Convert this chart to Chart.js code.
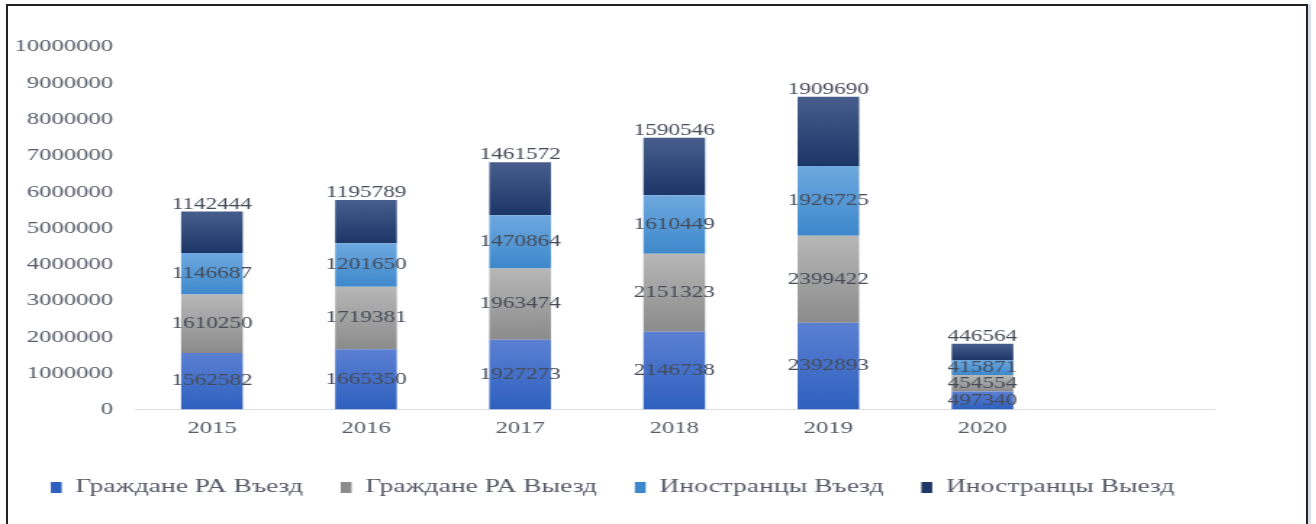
<!DOCTYPE html>
<html>
<head>
<meta charset="utf-8">
<script src="https://cdn.jsdelivr.net/npm/chart.js@4/dist/chart.umd.min.js"></script>
<style>
  html, body { margin: 0; padding: 0; background: #fff; overflow: hidden; }
  #frame {
    position: absolute; left: 6px; top: 4px; width: 1302px; height: 600px;
    border: 2px solid #222; box-sizing: border-box;
    box-shadow: 3px 0 0 #d8dde6;
  }
  #wrap {
    position: absolute; left: 0; top: 0; width: 908px; height: 524px;
    transform: scaleX(1.45); transform-origin: 0 0;
  }
</style>
</head>
<body>
<div id="frame"></div>
<div id="wrap"><canvas id="chart" width="908" height="524"></canvas></div>
<script>
const years = ['2015', '2016', '2017', '2018', '2019', '2020', ''];
const citizensIn = [1562582, 1665350, 1927273, 2146738, 2392893, 497340];
const citizensOut = [1610250, 1719381, 1963474, 2151323, 2399422, 454554];
const foreignIn = [1146687, 1201650, 1470864, 1610449, 1926725, 415871];
const foreignOut = [1142444, 1195789, 1461572, 1590546, 1909690, 446564];
const seriesNames = ['Граждане РА Въезд', 'Граждане РА Выезд', 'Иностранцы Въезд', 'Иностранцы Выезд'];

const serif = "'Liberation Serif', 'Times New Roman', serif";
const textColor = '#555b68';

function barFill(solid, top, bottom) {
    return function (ctx) {
        if (ctx.type !== 'data') return solid;
        const chart = ctx.chart;
        if (!chart.chartArea) return solid;
        const y = chart.scales.y;
        const i = ctx.dataIndex, d = ctx.datasetIndex;
        let base = 0;
        for (let k = 0; k < d; k++) base += chart.data.datasets[k].data[i] || 0;
        const v = chart.data.datasets[d].data[i] || 0;
        const g = chart.ctx.createLinearGradient(0, y.getPixelForValue(base + v), 0, y.getPixelForValue(base));
        g.addColorStop(0, top);
        g.addColorStop(1, bottom);
        return g;
    };
}

const segmentLabels = {
    id: 'segmentLabels',
    afterDatasetsDraw(chart) {
        const ctx = chart.ctx;
        const last = chart.data.datasets.length - 1;
        ctx.save();
        ctx.font = '16px ' + serif;
        ctx.fillStyle = '#454b58';
        ctx.textAlign = 'center';
        ctx.textBaseline = 'middle';
        chart.data.datasets.forEach((ds, d) => {
            const meta = chart.getDatasetMeta(d);
            meta.data.forEach((bar, i) => {
                const v = ds.data[i];
                if (v == null) return;
                const y = d === last ? bar.y - 7 : (bar.y + bar.base) / 2;
                ctx.fillText(String(v), bar.x, y);
            });
        });
        ctx.restore();
    }
};

new Chart(document.getElementById('chart').getContext('2d'), {
    type: 'bar',
    data: {
        labels: years,
        datasets: [
            { label: seriesNames[0], data: citizensIn, backgroundColor: barFill('#4472c4', '#5b80d2', '#2e60bf') },
            { label: seriesNames[1], data: citizensOut, backgroundColor: barFill('#a5a5a5', '#b7b7b7', '#8b8b8b') },
            { label: seriesNames[2], data: foreignIn, backgroundColor: barFill('#5b9bd5', '#6ea8df', '#3d88cb') },
            { label: seriesNames[3], data: foreignOut, backgroundColor: barFill('#264478', '#475e8d', '#1c3667') }
        ]
    },
    options: {
        responsive: false,
        animation: false,
        categoryPercentage: 0.5,
        barPercentage: 0.8,
        borderWidth: 0,
        layout: { padding: { left: 8, right: 71, top: 47, bottom: 17 } },
        plugins: {
            legend: {
                position: 'bottom',
                labels: {
                    boxWidth: 7.5,
                    boxHeight: 11,
                    padding: 26,
                    color: textColor,
                    font: { family: serif, size: 19 }
                }
            },
            tooltip: { enabled: false }
        },
        scales: {
            x: {
                stacked: true,
                grid: { display: false, drawTicks: false },
                border: { display: true, color: '#d9dee7', width: 1 },
                afterFit: function (scale) { scale.height += 4; },
                ticks: { color: textColor, padding: 9, font: { family: serif, size: 17 } }
            },
            y: {
                stacked: true,
                min: 0,
                max: 10000000,
                grid: { display: false, drawTicks: false },
                border: { display: false },
                afterFit: function (scale) { scale.width = 85; },
                ticks: {
                    stepSize: 1000000,
                    color: textColor,
                    padding: 15,
                    font: { family: serif, size: 17 },
                    callback: function (value) { return String(value); }
                }
            }
        }
    },
    plugins: [segmentLabels]
});
</script>
</body>
</html>
